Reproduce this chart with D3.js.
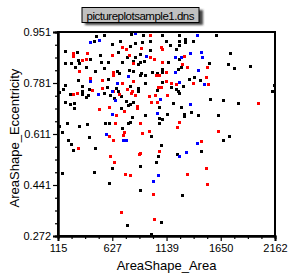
<!DOCTYPE html>
<html>
<head>
<meta charset="utf-8">
<script src="https://cdn.jsdelivr.net/npm/d3@7"></script>
<style>
  body { margin: 0; background: #fff; }
  svg { display: block; font-family: "Liberation Sans", Arial, sans-serif; }
</style>
</head>
<body>
<svg id="chart" width="299" height="278"></svg>
<script>
// Data: [AreaShape_Area, AreaShape_Eccentricity]
var blackPoints = [
  [476,0.937],[552,0.940],[457,0.922],[622,0.911],[703,0.920],[181,0.887],[297,0.884],[511,0.873],
  [684,0.883],[763,0.867],[306,0.859],[417,0.861],[181,0.848],[235,0.848],[313,0.848],[584,0.850],
  [521,0.850],[722,0.851],[275,0.834],[379,0.834],[464,0.822],[552,0.831],[672,0.822],[690,0.815],
  [306,0.790],[589,0.795],[181,0.776],[165,0.762],[344,0.772],[344,0.756],[410,0.762],[574,0.767],
  [662,0.765],[684,0.756],[129,0.752],
  [801,0.944],[917,0.940],[1099,0.940],[1254,0.940],[844,0.914],[907,0.918],[980,0.920],[1137,0.920],
  [1254,0.922],[1310,0.928],[1310,0.919],[1388,0.920],[791,0.903],[980,0.892],[1169,0.907],[1254,0.907],
  [1231,0.895],[886,0.878],[844,0.867],[1259,0.860],[822,0.853],[886,0.850],[926,0.853],[870,0.844],
  [1153,0.850],[1272,0.834],[1247,0.829],[782,0.825],[822,0.822],[895,0.815],[933,0.809],[886,0.807],
  [1002,0.817],[1099,0.817],[1052,0.815],[1099,0.829],[791,0.770],[870,0.765],[933,0.781],[1099,0.784],
  [1351,0.795],[1457,0.792],[1398,0.800],[1052,0.759],[1184,0.767],[1231,0.762],[1247,0.754],[870,0.756],
  [1297,0.770],[1259,0.749],
  [1608,0.941],[1740,0.880],[1537,0.847],[1721,0.844],[1778,0.830],[1929,0.837],[2157,0.774],[2137,0.754],
  [1552,0.727],[1674,0.724],[1816,0.714],[1627,0.674],[1731,0.604],[1674,0.591],
  [228,0.744],[344,0.744],[401,0.740],[376,0.735],[552,0.747],[606,0.740],[709,0.738],[646,0.732],
  [181,0.718],[228,0.710],[269,0.714],[269,0.699],[756,0.721],[772,0.708],[709,0.699],[558,0.649],
  [599,0.649],[778,0.649],[203,0.647],[391,0.644],[316,0.637],[127,0.638],[156,0.619],[716,0.631],
  [410,0.602],[212,0.591],[235,0.577],[259,0.557],[464,0.564],
  [791,0.712],[822,0.719],[1068,0.701],[1200,0.714],[1278,0.701],[1146,0.679],[1304,0.679],[1304,0.671],
  [1367,0.686],[1436,0.674],[938,0.675],[816,0.668],[1068,0.664],[1099,0.660],[791,0.651],[1068,0.647],
  [995,0.605],[1089,0.575],[1240,0.546],
  [1061,0.537],[1039,0.517],[891,0.504],[627,0.497],[156,0.481],[457,0.484],[599,0.448],[891,0.424],
  [1089,0.318],[769,0.308],[995,0.278],[1467,0.554],[1288,0.408]
];
var redPoints = [
  [716,0.901],[259,0.881],[259,0.870],[391,0.881],[627,0.873],[754,0.895],[341,0.857],[376,0.861],
  [316,0.820],[631,0.817],[631,0.809],[420,0.798],[533,0.792],[716,0.781],[533,0.765],[631,0.756],
  [433,0.759],[763,0.761],
  [980,0.940],[895,0.898],[1084,0.900],[1099,0.895],[782,0.873],[980,0.867],[1021,0.861],[822,0.847],
  [1096,0.850],[1288,0.844],[1335,0.834],[1137,0.817],[1042,0.809],[1065,0.809],[822,0.787],[1137,0.787],
  [1184,0.781],[1231,0.778],[1388,0.781],[1058,0.767],[1084,0.767],[813,0.756],[1306,0.870],
  [1523,0.834],[1514,0.800],[1533,0.777],[2004,0.714],[1627,0.621],[1467,0.587],
  [259,0.744],[291,0.747],[693,0.746],[505,0.694],[599,0.701],[740,0.688],[659,0.674],[656,0.647],
  [738,0.619],[599,0.604],[731,0.607],[637,0.591],[301,0.564],
  [801,0.747],[844,0.740],[971,0.738],[1027,0.740],[1146,0.740],[995,0.719],[1052,0.718],[863,0.705],
  [863,0.699],[886,0.647],[1256,0.652],[1240,0.635],[971,0.622],[910,0.614],[1065,0.555],[891,0.549],
  [876,0.544],
  [608,0.537],[646,0.517],[750,0.477],[797,0.474],[1014,0.411],[712,0.351],[1023,0.328],[1514,0.497],
  [1335,0.477],[1523,0.444]
];
var bluePoints = [
  [505,0.923],[420,0.917],[772,0.804],[420,0.787],[674,0.781],[622,0.756],[844,0.949],[1429,0.942],
  [1363,0.881],[1461,0.884],[948,0.870],[1221,0.867],[1278,0.867],[1471,0.867],[1440,0.825],[1221,0.817],
  [1256,0.785],[1495,0.777],[495,0.744],[656,0.724],[627,0.677],[571,0.611],[731,0.591],[756,0.591],
  [1080,0.727],[1363,0.710],[1052,0.680],[1426,0.581],[1325,0.552],[1061,0.474],[1014,0.454],[1259,0.537]
];

var xTicks = [115, 627, 1139, 1650, 2162];
var yTicks = [0.272, 0.44175, 0.6115, 0.78125, 0.951];
var yTickLabels = ["0.272", "0.441", "0.611", "0.781", "0.951"];
var title = "pictureplotsample1.dns";

var svg = d3.select("#chart");
var plotL = 58, plotR = 275, plotT = 32, plotB = 236;

var x = d3.scaleLinear().domain([115, 2162]).range([plotL, plotR]);
var y = d3.scaleLinear().domain([0.272, 0.951]).range([plotB, plotT]);

// minor ticks: three between each pair of majors
function minors(ticks) {
  var out = [];
  for (var i = 0; i < ticks.length - 1; i++) {
    var step = (ticks[i + 1] - ticks[i]) / 4;
    for (var k = 1; k < 4; k++) out.push(ticks[i] + k * step);
  }
  return out;
}

// points, clipped to the plot frame
svg.append("clipPath").attr("id", "plotclip")
  .append("rect").attr("x", plotL).attr("y", plotT)
  .attr("width", plotR - plotL).attr("height", plotB - plotT);

var marks = svg.append("g").attr("clip-path", "url(#plotclip)")
  .attr("shape-rendering", "crispEdges");
[[blackPoints, "#000"], [redPoints, "#ff0000"], [bluePoints, "#0000ff"]].forEach(function (s) {
  marks.append("g").selectAll("rect")
    .data(s[0])
    .join("rect")
    .attr("x", d => Math.round(x(d[0])) - 1)
    .attr("y", d => Math.round(y(d[1])) - 1)
    .attr("width", 3)
    .attr("height", 3)
    .attr("fill", s[1]);
});

// frame
svg.append("rect")
  .attr("x", plotL).attr("y", plotT)
  .attr("width", plotR - plotL).attr("height", plotB - plotT)
  .attr("fill", "none").attr("stroke", "#000").attr("stroke-width", 2);

// axes
svg.append("g")
  .attr("transform", "translate(0," + plotB + ")")
  .call(d3.axisBottom(x).tickValues(xTicks).tickSize(5).tickPadding(3).tickFormat(d3.format("d")));
svg.append("g")
  .attr("transform", "translate(0," + plotB + ")")
  .call(d3.axisBottom(x).tickValues(minors(xTicks)).tickSize(3).tickFormat(""));

svg.append("g")
  .attr("transform", "translate(" + plotL + ",0)")
  .call(d3.axisLeft(y).tickValues(yTicks).tickSize(5).tickPadding(2)
    .tickFormat((d, i) => yTickLabels[i]));
svg.append("g")
  .attr("transform", "translate(" + plotL + ",0)")
  .call(d3.axisLeft(y).tickValues(minors(yTicks)).tickSize(3).tickFormat(""));

svg.selectAll(".domain").attr("stroke-width", 2);
svg.selectAll(".tick line").attr("stroke-width", 1.2);
svg.selectAll(".tick text")
  .attr("font-family", "'Liberation Sans', Arial, sans-serif")
  .attr("font-size", 11).attr("fill", "#000");

// axis titles
svg.append("text")
  .attr("x", (plotL + plotR) / 2).attr("y", 270)
  .attr("text-anchor", "middle")
  .attr("font-size", 13)
  .text("AreaShape_Area");

svg.append("text")
  .attr("transform", "translate(19," + ((plotT + plotB) / 2 + 4) + ") rotate(-90)")
  .attr("text-anchor", "middle")
  .attr("font-size", 13)
  .text("AreaShape_Eccentricity");

// title box with a soft shadow
var defs = svg.append("defs");
defs.append("filter").attr("id", "blur")
  .append("feGaussianBlur").attr("stdDeviation", 1.2);

svg.append("rect")
  .attr("x", 85).attr("y", 10).attr("width", 118).attr("height", 15)
  .attr("fill", "#444").attr("filter", "url(#blur)");
svg.append("rect")
  .attr("x", 82).attr("y", 7.5).attr("width", 117).attr("height", 15)
  .attr("fill", "#c0c0c0").attr("stroke", "#000").attr("stroke-width", 1);
svg.append("text")
  .attr("x", 140.5).attr("y", 19.5)
  .attr("text-anchor", "middle")
  .attr("font-size", 11.5)
  .attr("textLength", 108)
  .text(title);
</script>
</body>
</html>
